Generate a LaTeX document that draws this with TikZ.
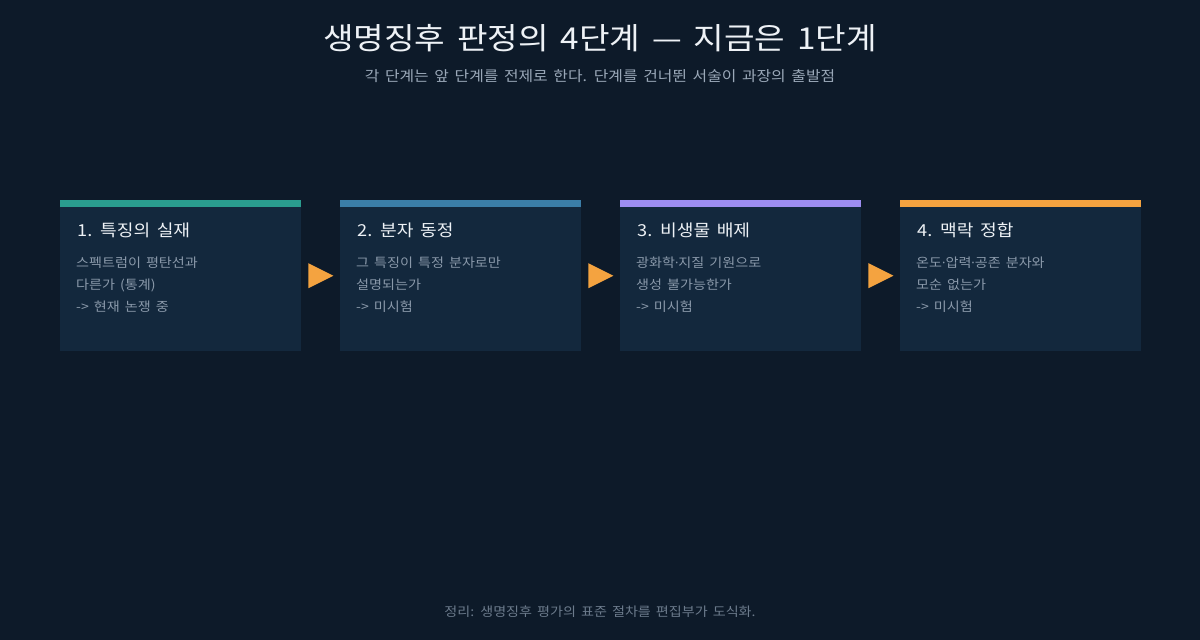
\documentclass[tikz,border=0pt]{standalone}
\usepackage{fontspec}
\setmainfont{Noto Sans CJK KR}[FakeStretch=1.1, WordSpace=1.6]
\newfontfamily\dotfont{Noto Sans}
\newcommand\mdot{{\dotfont ·}}
\usetikzlibrary{calc}

\definecolor{bgcol}{HTML}{0D1A29}
\definecolor{cardcol}{HTML}{13283D}
\definecolor{titlecol}{HTML}{EEF2F6}
\definecolor{subcol}{HTML}{9AA8B8}
\definecolor{bodycol}{HTML}{8A99AA}
\definecolor{footcol}{HTML}{6C7B8C}
\definecolor{tealcol}{HTML}{2A9D8F}
\definecolor{bluecol}{HTML}{3B7EA8}
\definecolor{violetcol}{HTML}{9D8DF1}
\definecolor{orangecol}{HTML}{F4A340}

\tikzset{
  card/.style={fill=cardcol, inner sep=0pt, minimum width=241pt, minimum height=151pt},
  cardhead/.style={text=titlecol, inner sep=0pt, font=\fontsize{16.5}{20}\selectfont},
  cardline/.style={text=bodycol, inner sep=0pt, font=\fontsize{12.8}{15}\selectfont},
  steparrow/.style={fill=orangecol}
}

\begin{document}
\begin{tikzpicture}[x=1pt, y=-1pt]
    % Canvas
    \fill[bgcol] (0,0) rectangle (1200,640);

    % Heading and subheading
    \node[text=titlecol, anchor=base, inner sep=0pt, font=\fontsize{30.2}{34}\selectfont]
        (title) at (600,49) {생명징후 판정의 4단계 — 지금은 1단계};
    \node[text=subcol, anchor=base, inner sep=0pt, font=\fontsize{14.4}{17}\selectfont]
        (subtitle) at (600,81) {각 단계는 앞 단계를 전제로 한다. 단계를 건너뛴 서술이 과장의 출발점};

    % The four stage cards
    \def\cardw{241}
    \def\cardgap{280}
    \foreach \i/\col/\head/\lineA/\lineB/\lineC in {
        1/tealcol/{1. 특징의 실재}/{스펙트럼이 평탄선과}/{다른가 (통계)}/{-> 현재 논쟁 중},
        2/bluecol/{2. 분자 동정}/{그 특징이 특정 분자로만}/{설명되는가}/{-> 미시험},
        3/violetcol/{3. 비생물 배제}/{광화학\mdot 지질 기원으로}/{생성 불가능한가}/{-> 미시험},
        4/orangecol/{4. 맥락 정합}/{온도\mdot 압력\mdot 공존 분자와}/{모순 없는가}/{-> 미시험}} {
        \pgfmathsetmacro{\xl}{60+(\i-1)*\cardgap}
        \node[card, anchor=north west] (card\i) at (\xl,200) {};
        \fill[\col] (card\i.north west) rectangle ++(\cardw,7);
        \node[cardhead, anchor=base west] (head\i) at (\xl+17,236) {\head};
        \node[cardline, anchor=base west] (lineA\i) at (\xl+16,267) {\lineA};
        \node[cardline, anchor=base west] (lineB\i) at (\xl+16,289) {\lineB};
        \node[cardline, anchor=base west] (lineC\i) at (\xl+16,311) {\lineC};
    }

    % Arrowheads between cards
    \foreach \i in {1,2,3} {
        \fill[steparrow] ($(card\i.east)+(7,-12.5)$) -- ++(25,12.5) -- ++(-25,12.5) -- cycle;
    }

    % Footnote
    \node[text=footcol, anchor=base, inner sep=0pt, font=\fontsize{12.8}{15}\selectfont]
        (footer) at (600,616) {정리: 생명징후 평가의 표준 절차를 편집부가 도식화.};
\end{tikzpicture}
\end{document}
